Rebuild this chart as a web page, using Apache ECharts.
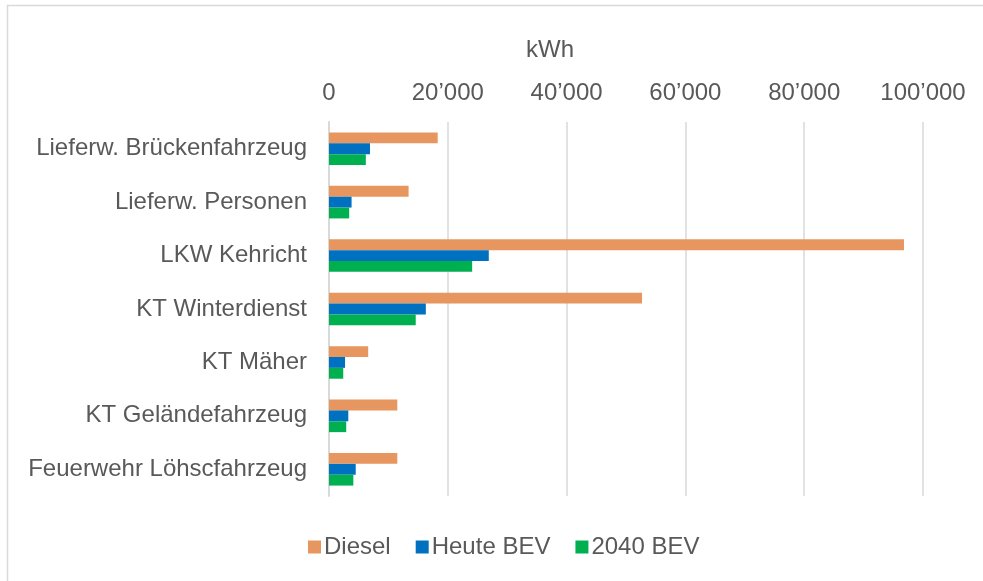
<!DOCTYPE html>
<html>
<head>
<meta charset="utf-8">
<script src="https://cdn.jsdelivr.net/npm/echarts@6/dist/echarts.min.js"></script>
<style>
  html, body { margin: 0; padding: 0; background: #fff; }
</style>
</head>
<body>
<div id="container" style="width: 983px; height: 581px"></div>
<script>
// Kategorien (von oben nach unten)
const categories = [
  'Lieferw. Brückenfahrzeug',
  'Lieferw. Personen',
  'LKW Kehricht',
  'KT Winterdienst',
  'KT Mäher',
  'KT Geländefahrzeug',
  'Feuerwehr Löhscfahrzeug'
];
const seriesNames = ['Diesel', 'Heute BEV', '2040 BEV'];
// kWh
const dieselData = [18300, 13400, 96800, 52700, 6600, 11500, 11500];
const heuteBevData = [6900, 3800, 26900, 16300, 2700, 3250, 4500];
const bev2040Data = [6200, 3400, 24100, 14600, 2400, 2900, 4100];

const colors = ['#E8965F', '#0070C0', '#00B050'];
const textColor = '#595959';
const fontFamily = '"Liberation Sans", Arial, sans-serif';

var dom = document.getElementById('container');
var myChart = echarts.init(dom, null, { renderer: 'canvas' });

function fmt(v) {
  // 20000 -> 20’000
  return String(v).replace(/\B(?=(\d{3})+(?!\d))/g, '\u2019');
}

var option = {
  animation: false,
  color: colors,
  textStyle: { fontFamily: fontFamily, color: textColor },
  graphic: [
    {
      // Rahmen nur oben und links sichtbar
      type: 'polyline',
      shape: { points: [[7.5, 600], [7.5, 5.5], [1000, 5.5]] },
      style: { fill: null, stroke: '#d9d9d9', lineWidth: 1.5 },
      silent: true
    }
  ],
  grid: {
    left: 329,
    right: 60,
    top: 122,
    bottom: 85
  },
  legend: {
    bottom: 17,
    left: 303,
    itemWidth: 13,
    itemHeight: 13,
    itemGap: 25,
    icon: 'rect',
    textStyle: { fontSize: 24, color: textColor, fontFamily: fontFamily, padding: [0, 0, 0, -2] },
    data: seriesNames
  },
  xAxis: {
    type: 'value',
    position: 'top',
    min: 0,
    max: 100000,
    interval: 20000,
    name: 'kWh',
    nameLocation: 'middle',
    nameGap: 60,
    nameTextStyle: { fontSize: 24, color: textColor, padding: [0, 152, 0, 0] },
    axisLine: { show: false },
    axisTick: { show: false },
    axisLabel: {
      fontSize: 24,
      color: textColor,
      margin: 17,
      formatter: fmt
    },
    splitLine: { lineStyle: { color: '#d9d9d9', width: 1.5 } }
  },
  yAxis: {
    type: 'category',
    inverse: true,
    data: categories,
    axisLine: { show: true, lineStyle: { color: '#d9d9d9', width: 2 } },
    axisTick: { show: false },
    axisLabel: { fontSize: 24, color: textColor, margin: 22 }
  },
  series: [
    { name: seriesNames[0], type: 'bar', data: dieselData, barGap: '0%', barCategoryGap: '39%' },
    { name: seriesNames[1], type: 'bar', data: heuteBevData, barGap: '0%', barCategoryGap: '39%' },
    { name: seriesNames[2], type: 'bar', data: bev2040Data, barGap: '0%', barCategoryGap: '39%' }
  ]
};

myChart.setOption(option);
</script>
</body>
</html>
